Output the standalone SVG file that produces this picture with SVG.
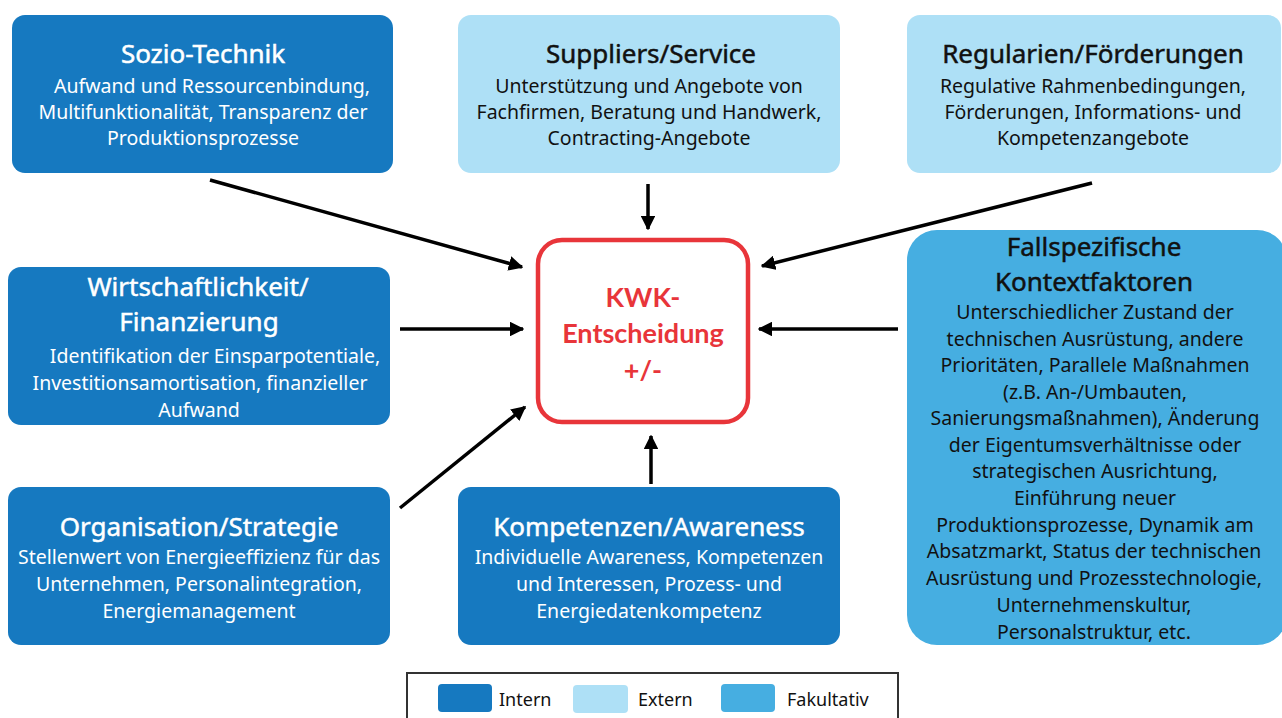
<svg xmlns="http://www.w3.org/2000/svg" width="1282" height="718" viewBox="0 0 1282 718">
<defs>
<style>
.intern{fill:#1679c0}
.extern{fill:#aee0f6}
.fak{fill:#46aee1}
.t{font-family:"Noto Sans","Liberation Sans",sans-serif;text-anchor:middle}
.title{font-size:26px;stroke-width:0.5px}
.body{font-size:19.5px}
.w{fill:#ffffff}
.title.w{stroke:#ffffff}
.k{fill:#111111}
.title.k{stroke:#111111}
.conn{stroke:#000;stroke-width:3.5;fill:none;marker-end:url(#ah)}
.leg{font-family:"Noto Sans","Liberation Sans",sans-serif;font-size:18px;fill:#111}
.kwk{font-family:Lato,"Open Sans","Liberation Sans",sans-serif;font-weight:bold;font-size:27px;fill:#e8353a;text-anchor:middle}
</style>
<marker id="ah" viewBox="0 0 10 10" refX="9" refY="5" markerWidth="4.2" markerHeight="4.2" orient="auto" markerUnits="strokeWidth">
<path d="M0,0 L10,5 L0,10 z" fill="#000"/>
</marker>
</defs>
<rect width="1282" height="718" fill="#ffffff"/>

<g id="sozio">
<rect class="intern" x="12" y="15" width="381" height="158" rx="13"/>
<text class="t title w" x="203" y="63">Sozio-Technik</text>
<text class="t body w" x="212" y="93">Aufwand und Ressourcenbindung,</text>
<text class="t body w" x="203" y="119">Multifunktionalität, Transparenz der</text>
<text class="t body w" x="203" y="145">Produktionsprozesse</text>
</g>

<g id="suppliers">
<rect class="extern" x="458" y="15" width="382" height="158" rx="13"/>
<text class="t title k" x="651" y="63">Suppliers/Service</text>
<text class="t body k" x="649" y="93">Unterstützung und Angebote von</text>
<text class="t body k" x="649" y="119">Fachfirmen, Beratung und Handwerk,</text>
<text class="t body k" x="649" y="145">Contracting-Angebote</text>
</g>

<g id="regularien">
<rect class="extern" x="907" y="15" width="374" height="158" rx="13"/>
<text class="t title k" x="1093" y="63">Regularien/Förderungen</text>
<text class="t body k" x="1093" y="93">Regulative Rahmenbedingungen,</text>
<text class="t body k" x="1093" y="119">Förderungen, Informations- und</text>
<text class="t body k" x="1093" y="145">Kompetenzangebote</text>
</g>

<g id="wirtschaft">
<rect class="intern" x="8" y="267" width="382" height="158" rx="13"/>
<text class="t title w" x="198" y="296">Wirtschaftlichkeit/</text>
<text class="t title w" x="199" y="331">Finanzierung</text>
<text class="t body w" x="215" y="363">Identifikation der Einsparpotentiale,</text>
<text class="t body w" x="200" y="390">Investitionsamortisation, finanzieller</text>
<text class="t body w" x="199" y="417">Aufwand</text>
</g>

<g id="kwk">
<rect x="538" y="240" width="210" height="182" rx="24" fill="#ffffff" stroke="#e8353a" stroke-width="4.5"/>
<text class="kwk" x="643" y="307">KWK-</text>
<text class="kwk" x="643" y="343">Entscheidung</text>
<text class="kwk" x="643" y="380">+/-</text>
</g>

<g id="fallspez">
<rect class="fak" x="907" y="230" width="380" height="415" rx="30"/>
<text class="t title k" x="1094" y="256">Fallspezifische</text>
<text class="t title k" x="1094" y="291">Kontextfaktoren</text>
<text class="t body k" x="1095" y="319">Unterschiedlicher Zustand der</text>
<text class="t body k" x="1095" y="346">technischen Ausrüstung, andere</text>
<text class="t body k" x="1095" y="372">Prioritäten, Parallele Maßnahmen</text>
<text class="t body k" x="1095" y="399">(z.B. An-/Umbauten,</text>
<text class="t body k" x="1095" y="425">Sanierungsmaßnahmen), Änderung</text>
<text class="t body k" x="1095" y="452">der Eigentumsverhältnisse oder</text>
<text class="t body k" x="1095" y="478">strategischen Ausrichtung,</text>
<text class="t body k" x="1095" y="505">Einführung neuer</text>
<text class="t body k" x="1095" y="532">Produktionsprozesse, Dynamik am</text>
<text class="t body k" x="1094" y="558">Absatzmarkt, Status der technischen</text>
<text class="t body k" x="1094" y="585">Ausrüstung und Prozesstechnologie,</text>
<text class="t body k" x="1094" y="612">Unternehmenskultur,</text>
<text class="t body k" x="1094" y="639">Personalstruktur, etc.</text>
</g>

<g id="organisation">
<rect class="intern" x="8" y="487" width="382" height="158" rx="13"/>
<text class="t title w" x="199" y="536">Organisation/Strategie</text>
<text class="t body w" x="199" y="564">Stellenwert von Energieeffizienz für das</text>
<text class="t body w" x="199" y="591">Unternehmen, Personalintegration,</text>
<text class="t body w" x="199" y="618">Energiemanagement</text>
</g>

<g id="kompetenzen">
<rect class="intern" x="458" y="487" width="382" height="158" rx="13"/>
<text class="t title w" x="649" y="536">Kompetenzen/Awareness</text>
<text class="t body w" x="649" y="564">Individuelle Awareness, Kompetenzen</text>
<text class="t body w" x="649" y="591">und Interessen, Prozess- und</text>
<text class="t body w" x="649" y="618">Energiedatenkompetenz</text>
</g>

<g id="connectors">
<line class="conn" x1="210" y1="180" x2="522" y2="267"/>
<line class="conn" x1="648" y1="184" x2="648" y2="229"/>
<line class="conn" x1="1092" y1="183" x2="762" y2="266"/>
<line class="conn" x1="400" y1="329" x2="523" y2="329"/>
<line class="conn" x1="898" y1="329" x2="759" y2="329"/>
<line class="conn" x1="400" y1="508" x2="525" y2="407"/>
<line class="conn" x1="651" y1="484" x2="651" y2="436"/>
</g>

<g id="legend">
<rect x="407" y="673" width="491" height="60" fill="#ffffff" stroke="#333" stroke-width="2"/>
<rect class="intern" x="438" y="684" width="54" height="28" rx="4"/>
<text class="leg" x="499" y="706">Intern</text>
<rect class="extern" x="573" y="685" width="55" height="28" rx="4"/>
<text class="leg" x="638" y="706">Extern</text>
<rect class="fak" x="721" y="684" width="54" height="28" rx="4"/>
<text class="leg" x="787" y="706">Fakultativ</text>
</g>
</svg>
